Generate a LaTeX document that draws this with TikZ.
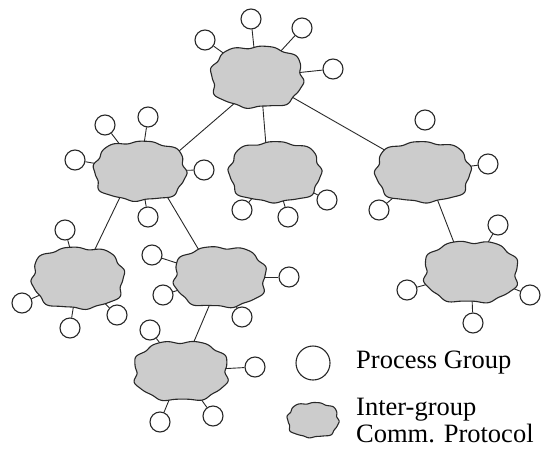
\documentclass[tikz,border=0pt]{standalone}
\usepackage{fontspec}
\setmainfont{Liberation Serif}
\usetikzlibrary{shapes.geometric}
\definecolor{blobgray}{RGB}{204,204,204}
\definecolor{inkline}{RGB}{40,40,40}
\tikzset{
  hub/.style={ellipse, minimum width=76pt, minimum height=46pt, inner sep=0pt},
  proc/.style={circle, draw=inkline, line width=1.1pt, fill=white, minimum size=20pt, inner sep=0pt},
  link/.style={draw=inkline, line width=0.9pt},
  keytext/.style={anchor=west, inner sep=0pt, align=left, font=\fontsize{26.5}{27}\selectfont},
  % wavy rounded blob: half width, half height, wave phase
  pics/blob/.style n args={3}{code={
    \filldraw[fill=blobgray, draw=inkline, line width=1.1pt]
      plot[domain=1:359, samples=180, variable=\t]
      ({#1*cos(\t)*(1+0.04*sin(8*\t+#3)+0.012*sin(15*\t+2*#3))/pow(pow(abs(cos(\t)),2.6)+pow(abs(sin(\t)),2.6),1/2.6)},
       {#2*sin(\t)*(1+0.04*sin(8*\t+#3)+0.012*sin(15*\t+2*#3))/pow(pow(abs(cos(\t)),2.6)+pow(abs(sin(\t)),2.6),1/2.6)}) -- cycle;
  }},
}
\begin{document}
\begin{tikzpicture}[x=1pt, y=-1pt]
\useasboundingbox (0,0) rectangle (543,450);

% protocol hubs (outline drawn later as blobs)
\node[hub] (hubT)  at (257,77)  {};
\node[hub] (hubL)  at (140,171) {};
\node[hub] (hubM)  at (275,172) {};
\node[hub] (hubR)  at (423,172) {};
\node[hub] (hubLL) at (78,278)  {};
\node[hub] (hubLM) at (220,277) {};
\node[hub] (hubRR) at (471,272) {};
\node[hub] (hubB)  at (181,371) {};

% process groups attached to each hub
\foreach \h/\i/\px/\py in {
  T/1/205/40, T/2/251/19, T/3/302/28, T/4/333/69,
  L/1/75/160, L/2/105/125, L/3/148/117, L/4/204/170, L/5/148/217,
  M/1/242/210, M/2/288/217, M/3/327/200,
  R/1/488/164, R/2/379/210,
  LL/1/65/230, LL/2/22/303, LL/3/70/328, LL/4/117/315,
  LM/1/152/255, LM/2/163/295, LM/3/289/277, LM/4/242/317,
  RR/1/498/225, RR/2/407/290, RR/3/530/295, RR/4/473/323,
  B/1/150/330, B/2/255/367, B/3/160/422, B/4/213/416}
{
  \node[proc] (p\h\i) at (\px,\py) {};
  \draw[link] (p\h\i) -- (hub\h);
}
\node[proc] (lone) at (425,120) {};

% hub-to-hub links
\draw[link] (hubT.-128) -- (hubL.23);
\draw[link] (hubT.-77) -- (hubM.111);
\draw[link] (hubT) -- (hubR);
\draw[link] (hubL.-130) -- (hubLL.58);
\draw[link] (hubL.-39) -- (hubLM.130);
\draw[link] (hubLM.-110) -- (hubB.66);
\draw[link] (hubR.-61) -- (hubRR.123);

% blobs on top
\pic at (hubT)  {blob={45}{30}{0}};
\pic at (hubL)  {blob={45}{29}{40}};
\pic at (hubM)  {blob={45}{29.5}{80}};
\pic at (hubR)  {blob={46.5}{29.5}{120}};
\pic at (hubLL) {blob={45}{30}{160}};
\pic at (hubLM) {blob={45}{29.5}{200}};
\pic at (hubRR) {blob={46}{30}{240}};
\pic at (hubB)  {blob={46}{29}{280}};

% legend
\node[proc, minimum size=34pt] (keyproc) at (313,363) {};
\pic at (313,420) {blob={25}{17}{30}};
\coordinate (keyhub) at (313,420);
\node[keytext] (keyproctext) at (356,363) {Process Group};
\node[keytext] (keyhubtext) at (356,421) {Inter-group\\Comm. Protocol};
\end{tikzpicture}
\end{document}
